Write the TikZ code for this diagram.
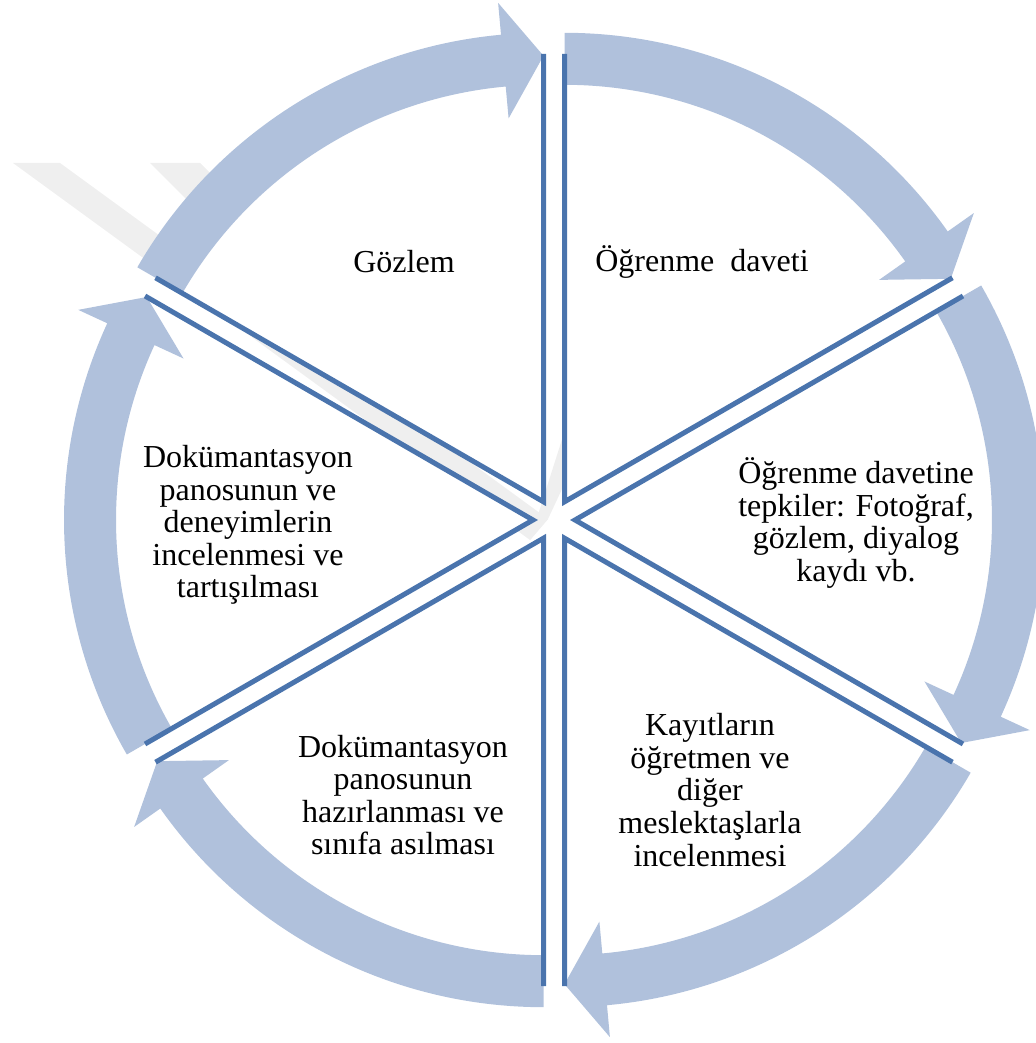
\documentclass[tikz,border=0pt]{standalone}
\usepackage{fontspec}
\setmainfont{Liberation Serif}
\usetikzlibrary{calc}
\definecolor{bandblue}{HTML}{B0C1DC}
\definecolor{spokeblue}{HTML}{4A74AD}
\definecolor{markgray}{HTML}{EFEFEF}

\begin{document}
\begin{tikzpicture}[x=0.5pt,y=0.5pt,
    arrowband/.style={fill=bandblue},
    spoke/.style={draw=spokeblue,line width=2.5pt},
    steptext/.style={align=center,font=\fontsize{16}{16.3}\selectfont}]
    \useasboundingbox (0,0) rectangle (1035,1043);
    \coordinate (C) at (554,523);
    % faint watermark behind the pie
    \fill [markgray] (13,880) -- (60,880) -- (548,524) -- (530,503) -- cycle;
    \fill [markgray] (150,880) -- (200,880) -- (300,780) -- (255,775) -- cycle;
    \fill [markgray] (530,503) -- (548,524) -- (585,603) -- (565,613) -- cycle;
    \foreach \b [count=\k] in {60,0,-60,-120,180,120}
    {
    \coordinate (O\k) at ($(C)+(\b:21)$);
    \begin{scope}[shift={(O\k)}]
    \fill [white] (0,0) -- (\b+30:447) arc [start angle=\b+30, end angle=\b-30, radius=447] -- cycle;
    \fill [arrowband] (\b+30:469) arc [start angle=\b+30, end angle=\b-24.8, radius=469]
        -- (\b-24.8:501) -- (\b-30:446) -- (\b-24.8:385) -- (\b-24.8:417)
        arc [start angle=\b-24.8, end angle=\b+30, radius=417] -- cycle;
    \end{scope}
    }
    \foreach \b [count=\k] in {60,0,-60,-120,180,120}
    {
    \begin{scope}[shift={(O\k)}]
    \draw [spoke] (\b+30:448) -- (0,0) -- (\b-30:448);
    \end{scope}
    }
    \node [steptext] (gozlem) at (404,781) {Gözlem};
    \node [steptext] (davet) at (702,781) {Öğrenme\ \ daveti};
    \node [steptext] (tepki) at (856,520) {Öğrenme davetine\\tepkiler: Fotoğraf,\\gözlem, diyalog\\kaydı vb.};
    \node [steptext] (kayit) at (710,253) {Kayıtların\\öğretmen ve\\diğer\\meslektaşlarla\\incelenmesi};
    \node [steptext] (pano) at (403,248) {Dokümantasyon\\panosunun\\hazırlanması ve\\sınıfa asılması};
    \node [steptext] (inceleme) at (248,518) {Dokümantasyon\\panosunun ve\\deneyimlerin\\incelenmesi ve\\tartışılması};
\end{tikzpicture}
\end{document}
